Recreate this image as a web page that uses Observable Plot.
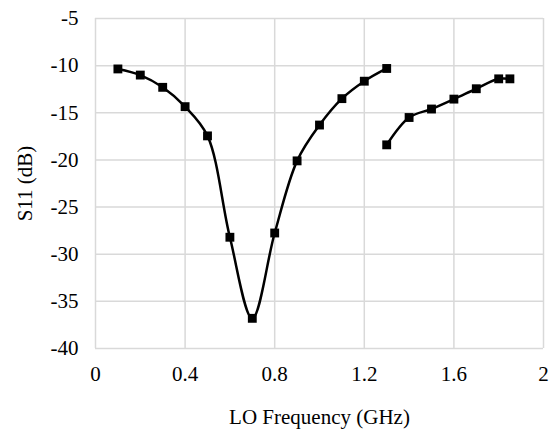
<!DOCTYPE html>
<html>
<head>
<meta charset="utf-8">
<script src="https://cdn.jsdelivr.net/npm/d3@7"></script>
<script src="https://cdn.jsdelivr.net/npm/@observablehq/plot@0.6"></script>
<style>
  html, body { margin: 0; padding: 0; background: #fff; }
  #chart svg { display: block; }
</style>
</head>
<body>
<div id="chart"></div>
<script>
// Series 1 (lower band)
const freq1 = [0.1, 0.2, 0.3, 0.4, 0.5, 0.6, 0.7, 0.8, 0.9, 1.0, 1.1, 1.2, 1.3];
const s11_1 = [-10.35, -11.0, -12.3, -14.35, -17.45, -28.2, -36.8, -27.75, -20.1, -16.3, -13.5, -11.65, -10.3];
// Series 2 (upper band)
const freq2 = [1.3, 1.4, 1.5, 1.6, 1.7, 1.8, 1.85];
const s11_2 = [-18.4, -15.5, -14.6, -13.55, -12.45, -11.4, -11.4];

const xTicks = [0, 0.4, 0.8, 1.2, 1.6, 2];
const yTicks = [-40, -35, -30, -25, -20, -15, -10, -5];

const data = [
  ...freq1.map((f, i) => ({series: "A", f, v: s11_1[i]})),
  ...freq2.map((f, i) => ({series: "B", f, v: s11_2[i]}))
];

const serif = "'Liberation Serif', 'Times New Roman', serif";

const chart = Plot.plot({
  width: 552,
  height: 429,
  marginLeft: 95,
  marginRight: 9,
  marginTop: 18,
  marginBottom: 81,
  style: {fontSize: "21px", color: "#000", background: "#fff"},
  x: {domain: [0, 2], ticks: xTicks},
  y: {domain: [-40, -5], ticks: yTicks},
  marks: [
    Plot.gridX(xTicks, {stroke: "#d9d9d9", strokeOpacity: 1, strokeWidth: 1.5}),
    Plot.gridY(yTicks, {stroke: "#d9d9d9", strokeOpacity: 1, strokeWidth: 1.5}),
    Plot.axisX(xTicks, {tickSize: 0, tickPadding: 18, tickFormat: d => String(d), label: "LO Frequency (GHz)", labelAnchor: "center", labelArrow: "none", labelOffset: 75, fontSize: 21}),
    Plot.axisY(yTicks, {tickSize: 0, tickPadding: 17, tickFormat: d => String(d), label: "S11 (dB)", labelAnchor: "center", labelArrow: "none", labelOffset: 78, fontSize: 21}),
    Plot.line(data, {x: "f", y: "v", z: "series", curve: "catmull-rom", stroke: "#000", strokeWidth: 2.5}),
    Plot.dot(data, {x: "f", y: "v", symbol: "square", r: 5, fill: "#000", stroke: "none"})
  ]
});
chart.setAttribute("font-family", serif);
chart.style.fontFamily = serif;
chart.querySelectorAll("g, text").forEach(el => {
  el.setAttribute("font-family", serif);
  el.style.fontFamily = serif;
});
document.getElementById("chart").appendChild(chart);
</script>
</body>
</html>
